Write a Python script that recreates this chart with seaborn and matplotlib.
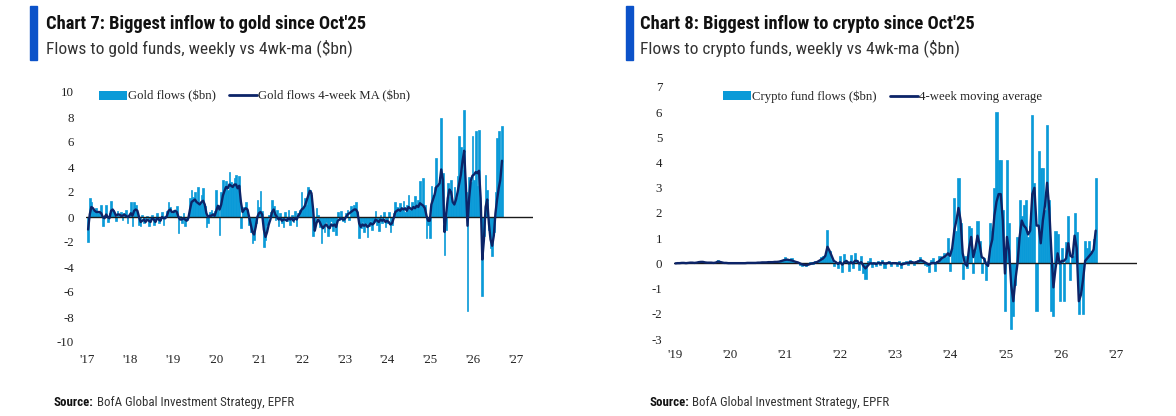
"""
Gold and crypto fund flows: weekly flows vs 4-week moving average.
"""

import numpy as np
import pandas as pd
import matplotlib
matplotlib.use("Agg")
import matplotlib.pyplot as plt
import seaborn as sns
from matplotlib import font_manager
from matplotlib.patches import Patch, Rectangle
from matplotlib.lines import Line2D

# ---- data ($bn, two-weekly steps) ----
gold_flow_2017 = [-2.0, 1.5, 1.2, 0.6, 0.4, 0.7, 0.3, 0.5, 1.0, -0.7, 0.2, 1.0, -0.4, 0.3, 1.3, 0.6, 0.2, -0.3, 0.5, 0.1, 0.4, -0.2, 0.3, 0.6, -0.5, 0.2]
gold_flow_2018 = [1.2, -0.7, 1.2, 1.0, 0.3, -0.6, -0.7, 0.2, -0.5, -0.3, 0.1, -0.7, -0.2, 0.2, -0.6, -0.3, 0.3, -0.5, -0.2, 0.4, -0.6, 0.1, 0.5, 1.2, 0.8, 0.3]
gold_flow_2019 = [0.6, 0.4, 0.9, -1.3, 0.1, -0.5, 0.3, -0.7, -0.2, 0.2, 1.5, 2.2, 1.6, 2.0, 1.2, 2.4, 1.0, 1.8, 2.3, 0.9, -0.8, -0.5, 0.4, 0.6, 0.3, 0.5]
gold_flow_2020 = [2.2, 1.0, -1.4, 2.0, 3.0, 2.4, 2.9, 2.2, 3.6, 2.8, 2.5, 3.1, 3.4, 2.6, 3.3, -0.9, 0.5, 0.8, 1.2, 0.6, -0.6, -1.2, -2.1, -1.8, -0.5, 1.4]
gold_flow_2021 = [0.8, 2.1, 0.5, -2.4, -1.8, -0.6, 0.2, 0.4, 1.4, 0.9, -0.2, 0.6, -0.7, 0.3, -0.5, -0.8, 0.4, -0.3, 0.6, -0.6, 0.2, -0.4, 0.5, -0.7, 0.3, 0.6]
gold_flow_2022 = [2.0, 0.8, 1.5, 1.0, 2.4, 2.2, 1.8, -1.5, -0.6, 0.7, 0.2, -0.8, -2.1, -0.6, -1.2, -0.4, -1.5, -0.9, -0.3, -1.1, -0.5, -1.4, 0.4, -0.2, 0.5, -0.3]
gold_flow_2023 = [-0.4, 0.3, 0.6, -0.2, 0.9, 0.5, 1.0, 1.2, 0.4, -1.7, -0.9, -0.3, -1.2, -0.5, -1.6, -0.7, -0.2, -1.0, -0.4, 0.5, -0.6, -1.1, 0.2, -0.5, 0.4, -0.8]
gold_flow_2024 = [-0.5, 0.4, -1.2, -0.6, 0.3, 1.2, 0.8, 0.5, 1.1, 0.7, 1.3, 0.4, 1.0, 1.8, 0.6, 1.2, 0.9, 1.7, 0.8, 1.4, 2.9, 0.9, 3.1, 1.0, -1.7, -0.6]
gold_flow_2025 = [-1.7, 2.5, 1.8, 2.4, 4.7, 2.6, 3.2, 7.9, 3.5, -3.0, -1.0, 2.7, 1.6, 3.0, 1.2, 2.4, 1.5, 3.3, 6.5, 5.6, 3.8, 8.6, 2.0, -7.5, 3.2, 2.8]
gold_flow_2026 = [6.5, 3.0, 6.9, 2.5, 7.0, 1.0, -6.3, -1.5, 3.4, 2.2, -1.0, -2.5, -3.1, -1.2, 2.0, 6.3, 6.9, 3.0, 7.3]

gold_ma_2017 = [-1.0, 0.2, 0.8, 0.7, 0.5, 0.4, 0.4, 0.4, 0.3, 0.0, -0.1, 0.2, 0.0, -0.1, 0.5, 0.6, 0.4, 0.1, 0.2, 0.2, 0.1, 0.1, 0.2, 0.1, 0.0, 0.1]
gold_ma_2018 = [0.3, 0.1, 0.5, 0.6, 0.5, 0.0, -0.4, -0.3, -0.2, -0.4, -0.2, -0.3, -0.4, -0.1, -0.2, -0.4, -0.1, -0.2, -0.3, 0.0, -0.1, -0.1, 0.1, 0.5, 0.6, 0.4]
gold_ma_2019 = [0.4, 0.5, 0.4, 0.0, -0.2, -0.2, -0.1, -0.2, -0.3, -0.1, 0.6, 1.2, 1.3, 1.4, 1.2, 1.1, 1.0, 1.2, 1.3, 1.0, 0.3, 0.0, 0.1, 0.1, 0.2, 0.1]
gold_ma_2020 = [0.5, 0.9, 0.6, 1.0, 1.7, 2.1, 2.4, 2.3, 2.6, 2.5, 2.4, 2.6, 2.6, 2.3, 2.5, 1.2, 0.4, 0.6, 0.7, 0.6, 0.0, -0.6, -1.2, -1.4, -0.8, 0.0]
gold_ma_2021 = [0.3, 0.4, 0.2, -1.0, -1.6, -1.2, -0.6, -0.2, 0.4, 0.6, 0.2, 0.0, -0.2, -0.1, -0.3, -0.2, -0.2, -0.3, -0.1, -0.2, -0.1, -0.3, -0.1, -0.2, 0.1, 0.3]
gold_ma_2022 = [0.6, 0.7, 0.9, 1.3, 1.7, 2.1, 1.9, 0.6, -1.1, -0.5, -0.2, -0.4, -0.7, -0.9, -0.7, -0.6, -0.8, -0.9, -0.6, -0.7, -0.6, -0.8, -0.3, -0.2, -0.1, -0.2]
gold_ma_2023 = [-0.2, 0.0, 0.2, 0.3, 0.4, 0.5, 0.6, 0.6, 0.4, -0.5, -0.8, -0.6, -0.7, -0.6, -0.8, -0.7, -0.5, -0.6, -0.5, -0.2, -0.3, -0.4, -0.2, -0.3, -0.2, -0.4]
gold_ma_2024 = [-0.3, -0.4, -0.6, -0.5, -0.1, 0.4, 0.5, 0.6, 0.5, 0.7, 0.6, 0.7, 0.5, 0.8, 0.7, 0.6, 0.8, 0.7, 0.9, 0.8, 1.1, 1.0, 0.9, 0.7, 0.1, -0.3]
gold_ma_2025 = [-0.3, 1.0, 1.4, 1.8, 2.4, 2.5, 2.7, 3.8, 3.0, -1.2, 0.2, 1.5, 2.2, 2.0, 1.2, 1.0, 1.4, 2.0, 2.7, 3.4, 4.5, 5.3, 2.5, -0.7, 1.5, 2.9]
gold_ma_2026 = [3.3, 3.4, 3.6, 3.5, 3.7, 1.5, -3.4, -1.8, 0.8, 1.4, -0.5, -1.8, -2.3, -1.5, 0.3, 1.4, 2.3, 3.0, 4.5]

crypto_flow_2019 = [0.0, 0.02, 0.01, 0.03, 0.02, 0.0, 0.03, 0.05, 0.02, 0.01, 0.04, 0.06, 0.08, 0.05, 0.03, 0.02, 0.04, 0.03, 0.01, 0.05, 0.15, 0.04, 0.02, 0.01, 0.02, 0.0]
crypto_flow_2020 = [0.01, 0.02, 0.0, 0.01, 0.02, 0.01, 0.0, 0.02, 0.03, 0.01, 0.02, 0.03, 0.02, 0.04, 0.03, 0.05, 0.04, 0.03, 0.06, 0.04, 0.05, 0.07, 0.05, 0.09, 0.12, 0.15]
crypto_flow_2021 = [0.25, 0.18, 0.1, 0.2, 0.05, 0.0, 0.03, -0.05, -0.12, -0.05, -0.1, 0.02, 0.05, -0.03, 0.08, 0.1, 0.15, 0.25, 0.3, 0.35, 1.32, 0.5, 0.15, -0.1, 0.05, -0.2]
crypto_flow_2022 = [0.3, -0.35, 0.37, 0.1, -0.3, 0.35, -0.2, 0.4, 0.15, -0.25, 0.3, -0.4, -0.6, 0.1, 0.2, -0.15, 0.05, -0.1, 0.1, -0.05, 0.15, -0.2, 0.05, 0.1, -0.1, 0.05]
crypto_flow_2023 = [0.05, -0.1, 0.08, -0.2, 0.05, 0.1, -0.05, 0.12, 0.05, -0.08, 0.1, 0.15, 0.25, 0.1, -0.05, -0.1, -0.35, 0.15, 0.2, -0.3, 0.1, 0.3, 0.2, 0.4, 0.25, 1.0]
crypto_flow_2024 = [-0.3, 0.6, 2.6, 1.3, 3.4, 1.6, -0.6, 0.3, -0.2, 1.5, 1.4, -0.4, 0.5, 1.7, 0.9, -0.4, 0.2, -0.65, 0.1, 1.6, 1.3, 3.0, 6.0, 4.1, 4.1, 2.1]
crypto_flow_2025 = [-1.9, 4.1, 1.6, -2.6, -2.1, -0.85, 1.05, 2.5, 1.9, 2.3, 2.5, 1.05, 1.5, 5.9, 3.2, -1.9, 4.45, 3.8, 3.8, 2.1, 5.5, 2.5, -1.9, -2.1, 1.3, 1.15]
crypto_flow_2026 = [-1.5, 0.6, -1.5, 0.85, 1.9, -0.65, 0.3, 2.0, 1.25, -2.0, -1.05, -2.0, 0.9, 0.6, 0.9, 0.5, 0.95, 3.4]

crypto_ma_2019 = [0.0, 0.01, 0.01, 0.02, 0.02, 0.01, 0.02, 0.03, 0.03, 0.02, 0.03, 0.05, 0.06, 0.06, 0.04, 0.03, 0.03, 0.03, 0.02, 0.03, 0.07, 0.06, 0.04, 0.02, 0.02, 0.01]
crypto_ma_2020 = [0.01, 0.01, 0.01, 0.01, 0.01, 0.01, 0.01, 0.01, 0.02, 0.02, 0.02, 0.02, 0.02, 0.03, 0.03, 0.04, 0.04, 0.04, 0.05, 0.05, 0.05, 0.06, 0.06, 0.07, 0.09, 0.12]
crypto_ma_2021 = [0.14, 0.15, 0.13, 0.12, 0.09, 0.06, 0.04, 0.0, -0.04, -0.06, -0.07, -0.05, -0.02, 0.0, 0.03, 0.05, 0.1, 0.15, 0.2, 0.3, 0.66, 0.5, 0.3, 0.1, 0.05, -0.02]
crypto_ma_2022 = [0.05, -0.05, 0.05, 0.1, 0.0, 0.05, 0.0, 0.1, 0.1, 0.0, 0.05, -0.1, -0.2, -0.1, 0.0, 0.0, 0.0, -0.02, 0.02, 0.0, 0.03, 0.0, 0.0, 0.03, 0.0, 0.01]
crypto_ma_2023 = [0.01, 0.0, 0.0, -0.05, -0.02, 0.0, 0.02, 0.05, 0.05, 0.03, 0.05, 0.08, 0.12, 0.1, 0.05, 0.0, -0.05, 0.0, 0.02, 0.0, 0.05, 0.1, 0.2, 0.25, 0.3, 0.4]
crypto_ma_2024 = [0.3, 0.6, 1.3, 1.7, 2.2, 1.7, 0.4, 0.0, -0.1, 0.6, 1.05, 0.25, 0.6, 1.1, 0.75, 0.25, 0.2, 0.0, -0.1, 0.6, 0.95, 1.9, 2.45, 2.75, 2.75, 1.7]
crypto_ma_2025 = [-0.4, 1.05, 0.5, -0.85, -1.5, -0.65, 0.0, 1.05, 1.7, 1.5, 1.4, 1.15, 1.3, 2.75, 3.0, 1.5, 1.5, 0.8, 1.7, 2.3, 3.2, 2.2, 0.5, -0.95, -0.2, 0.4]
crypto_ma_2026 = [0.0, 0.1, 0.1, 0.2, 0.8, 0.3, 0.25, 1.1, 0.6, -1.5, -1.25, -0.65, 0.1, 0.2, 0.3, 0.4, 0.55, 1.3]

gold_years = list(range(2017, 2028))
crypto_years = list(range(2019, 2028))
gold_ticks = [10, 8, 6, 4, 2, 0, -2, -4, -6, -8, -10]
crypto_ticks = [7, 6, 5, 4, 3, 2, 1, 0, -1, -2, -3]

gold_flows = np.concatenate([gold_flow_2017, gold_flow_2018, gold_flow_2019, gold_flow_2020, gold_flow_2021,
                             gold_flow_2022, gold_flow_2023, gold_flow_2024, gold_flow_2025, gold_flow_2026])
gold_ma = np.concatenate([gold_ma_2017, gold_ma_2018, gold_ma_2019, gold_ma_2020, gold_ma_2021,
                          gold_ma_2022, gold_ma_2023, gold_ma_2024, gold_ma_2025, gold_ma_2026])
crypto_flows = np.concatenate([crypto_flow_2019, crypto_flow_2020, crypto_flow_2021, crypto_flow_2022,
                               crypto_flow_2023, crypto_flow_2024, crypto_flow_2025, crypto_flow_2026])
crypto_ma = np.concatenate([crypto_ma_2019, crypto_ma_2020, crypto_ma_2021, crypto_ma_2022,
                            crypto_ma_2023, crypto_ma_2024, crypto_ma_2025, crypto_ma_2026])


def decimal_years(start, n):
    d = pd.date_range(start, periods=n, freq="14D")
    return np.asarray(d.year + (d.dayofyear - 1) / 365.25)


gold_x = decimal_years("2017-01-06", len(gold_flows))
crypto_x = decimal_years("2019-01-04", len(crypto_flows))

# ---- style ----
BAR = "#0A9AD8"
NAVY = "#0C2468"
ACCENT = "#0B52C9"
sns.set_theme(style="white")
plt.rcParams["font.family"] = ["Liberation Serif", "DejaVu Serif"]

installed = {f.name for f in font_manager.fontManager.ttflist}
HEAD = "DejaVu Sans"
for cand in ["Liberation Sans Narrow", "Roboto Condensed", "Open Sans Condensed", "Roboto"]:
    if cand in installed:
        HEAD = cand
        break

W, H = 1176, 416
fig = plt.figure(figsize=(W / 100, H / 100), dpi=100)
fig.patch.set_facecolor("white")
renderer = fig.canvas.get_renderer()


def fit_width(txt, target_px):
    w = txt.get_window_extent(renderer).width
    txt.set_fontsize(txt.get_fontsize() * target_px / w)


def header(x_bar, x_text, title, subtitle, title_w, sub_w):
    fig.patches.append(Rectangle((x_bar / W, 1 - 60 / H), 7 / W, 54 / H,
                                 transform=fig.transFigure, color=ACCENT, zorder=1))
    t = fig.text(x_text / W, 1 - 29 / H, title, fontfamily=HEAD, fontweight="bold",
                 fontsize=13, color="#111111", va="baseline")
    s = fig.text(x_text / W, 1 - 53 / H, subtitle, fontfamily=HEAD,
                 fontsize=12, color="#333333", va="baseline")
    fit_width(t, title_w)
    fit_width(s, sub_w)


def source(x, width=240, y=406):
    b = fig.text(x / W, 1 - y / H, "Source:", fontfamily=HEAD, fontweight="bold",
                 fontsize=8.5, color="#111111", va="baseline")
    r = fig.text(0, 1 - y / H, "BofA Global Investment Strategy, EPFR", fontfamily=HEAD,
                 fontsize=8.5, color="#333333", va="baseline")
    wb = b.get_window_extent(renderer).width
    wr = r.get_window_extent(renderer).width
    k = width / (wb + wr + 3)
    b.set_fontsize(8.5 * k)
    r.set_fontsize(8.5 * k)
    wb = b.get_window_extent(renderer).width
    r.set_x((x + wb + 3 * k) / W)


def flow_panel(box, x, flows, ma, xlim, ylim, years, yticks, labels, legend_x, legend_y, xpad):
    left, top, right, bottom = box
    ax = fig.add_axes([left / W, 1 - bottom / H, (right - left) / W, (bottom - top) / H])
    ax.bar(x, flows, width=14 / 365.25, color=BAR, edgecolor=BAR, linewidth=0.5, zorder=2)
    ax.axhline(0, color="#1a1a1a", linewidth=1.0, zorder=3)
    sns.lineplot(x=x, y=ma, ax=ax, color=NAVY, linewidth=1.7, zorder=4, legend=False)
    ax.set_xlim(*xlim)
    ax.set_ylim(*ylim)
    ax.set_xticks(years)
    ax.set_xticklabels([f"'{y % 100:02d}" for y in years])
    ax.set_yticks(yticks)
    ax.set_yticklabels([str(v) for v in yticks])
    ax.tick_params(axis="x", length=0, pad=xpad, labelsize=9.3, labelcolor="#222222")
    ax.tick_params(axis="y", length=0, pad=8.5, labelsize=9.3, labelcolor="#222222")
    ax.set_xlabel("")
    ax.set_ylabel("")
    ax.grid(False)
    ax.set_facecolor("none")
    sns.despine(ax=ax, left=True, bottom=True)
    handles = [Patch(facecolor=BAR, edgecolor="none"), Line2D([0], [0], color=NAVY, linewidth=2.0)]
    ax.legend(handles, labels, loc="center left", bbox_to_anchor=(legend_x / W, 1 - legend_y / H),
              bbox_transform=fig.transFigure, ncol=2, frameon=False, borderpad=0, borderaxespad=0,
              handlelength=2.2, handletextpad=0.1, columnspacing=1.0, fontsize=9.2)
    return ax


# ---- chart 7: gold ----
header(30, 46.5, "Chart 7: Biggest inflow to gold since Oct'25",
       "Flows to gold funds, weekly vs 4wk-ma ($bn)", 320, 306)
flow_panel((86, 92, 533, 342), gold_x, gold_flows, gold_ma,
           (2017 + (86 - 87.5) / 42.85, 2017 + (533 - 87.5) / 42.85), (-10, 10),
           gold_years, gold_ticks, ["Gold flows ($bn)", "Gold flows 4-week MA ($bn)"],
           98.5, 96.5, 8.5)
source(54)

# ---- chart 8: crypto ----
header(626, 640.5, "Chart 8: Biggest inflow to crypto since Oct'25",
       "Flows to crypto funds, weekly vs 4wk-ma ($bn)", 335, 320)
flow_panel((674, 87, 1137, 339), crypto_x, crypto_flows, crypto_ma,
           (2019 + (674 - 675) / 55.1, 2019 + (1137 - 675) / 55.1), (-3, 7),
           crypto_years, crypto_ticks, ["Crypto fund flows ($bn)", "4-week moving average"],
           723, 97, 7.5)
source(649)

fig.savefig("out.png", dpi=100, facecolor="white")
